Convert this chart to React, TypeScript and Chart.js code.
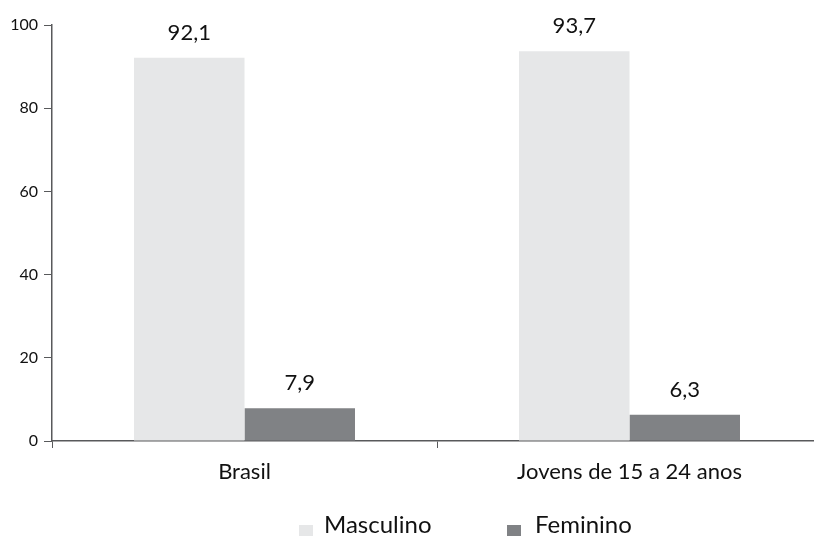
import React, { useEffect, useRef } from "react";
import { Chart, registerables } from "chart.js";

Chart.register(...registerables);

const categories = ["Brasil", "Jovens de 15 a 24 anos"];
const seriesNames = ["Masculino", "Feminino"];
const masculino = [92.1, 93.7];
const feminino = [7.9, 6.3];
const yTicks = [0, 20, 40, 60, 80, 100];
const colors = ["#e6e7e8", "#808285"];

const FONT = "Lato, 'Open Sans', sans-serif";

const fmt = (v: number) => v.toFixed(1).replace(".", ",");

const labelsPlugin = {
  id: "valueLabels",
  afterDatasetsDraw(chart: any) {
    const ctx = chart.ctx;
    ctx.save();
    ctx.fillStyle = "#111";
    ctx.font = `22px ${FONT}`;
    ctx.textAlign = "center";
    ctx.textBaseline = "alphabetic";
    chart.data.datasets.forEach((ds: any, i: number) => {
      const meta = chart.getDatasetMeta(i);
      meta.data.forEach((el: any, j: number) => {
        ctx.fillText(fmt(ds.data[j]), el.x, el.y - 18);
      });
    });
    ctx.restore();
  },
};

const legendPlugin = {
  id: "customLegend",
  afterDraw(chart: any) {
    const ctx = chart.ctx;
    ctx.save();
    ctx.font = `24px ${FONT}`;
    ctx.textBaseline = "alphabetic";
    ctx.textAlign = "left";
    const baseline = 533;
    const starts = [299, 507];
    const textOffsets = [25, 28];
    chart.data.datasets.forEach((ds: any, i: number) => {
      const x = starts[i];
      ctx.fillStyle = ds.backgroundColor;
      ctx.fillRect(x, 525, 14, 12);
      ctx.fillStyle = "#111";
      ctx.fillText(ds.label, x + textOffsets[i], baseline);
    });
    ctx.restore();
  },
};

export default function App() {
  const ref = useRef<HTMLCanvasElement | null>(null);
  useEffect(() => {
    if (!ref.current) return;
    const chart = new Chart(ref.current, {
      type: "bar",
      data: {
        labels: categories,
        datasets: [
          { label: seriesNames[0], data: masculino, backgroundColor: colors[0] },
          { label: seriesNames[1], data: feminino, backgroundColor: colors[1] },
        ],
      },
      options: {
        animation: false,
        responsive: false,
        maintainAspectRatio: false,
        layout: { padding: { top: 25, right: 0, bottom: 0, left: 0 } },
        datasets: { bar: { categoryPercentage: 0.574, barPercentage: 1 } },
        plugins: { legend: { display: false }, tooltip: { enabled: false } },
        scales: {
          x: {
            grid: {
              display: true,
              drawOnChartArea: false,
              drawTicks: true,
              tickLength: 7,
              color: "#58595b",
              offset: true,
            },
            border: { display: true, color: "#58595b", width: 1.5 },
            ticks: { color: "#111", font: { size: 22, family: FONT }, padding: 11 },
            afterFit: (s: any) => {
              s.height = 95;
            },
          },
          y: {
            min: 0,
            max: 100,
            afterBuildTicks: (s: any) => {
              s.ticks = yTicks.map((v) => ({ value: v }));
            },
            grid: {
              display: true,
              drawOnChartArea: false,
              drawTicks: true,
              tickLength: 8,
              color: "#58595b",
            },
            border: { display: true, color: "#58595b", width: 1.5 },
            ticks: { color: "#111", font: { size: 16, family: FONT }, padding: 6 },
            afterFit: (s: any) => {
              s.width = 52;
            },
          },
        },
      },
      plugins: [labelsPlugin, legendPlugin],
    });
    return () => chart.destroy();
  }, []);
  return (
    <div style={{ position: "absolute", left: 0, top: 0, width: 814, height: 536, overflow: "hidden", background: "#fff" }}>
      <canvas ref={ref} width={822} height={536} style={{ width: 822, height: 536 }} />
    </div>
  );
}
